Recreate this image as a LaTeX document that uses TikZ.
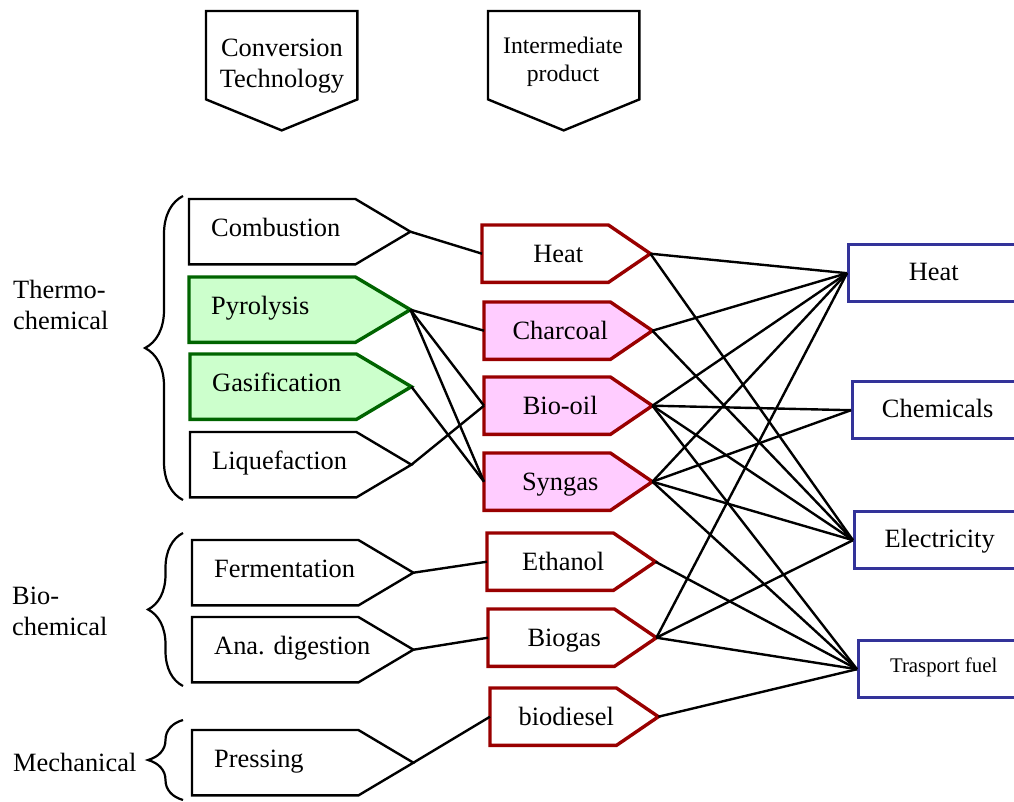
\documentclass[tikz,border=0pt]{standalone}
\usepackage{fontspec}
\setmainfont{Liberation Serif}
\usetikzlibrary{calc,decorations.pathreplacing}
\definecolor{gborder}{RGB}{0,100,0}
\definecolor{gfill}{RGB}{204,255,204}
\definecolor{rborder}{RGB}{153,0,0}
\definecolor{rfill}{RGB}{255,204,255}
\definecolor{bborder}{RGB}{51,51,153}
% left-column pentagon: name, left x, top y, style, text
\newcommand{\lpent}[5]{%
  \node[lrect] (#1) at (#2,#3) {};
  \coordinate (#1-tip) at ($(#1.east)+(55,0)$);
  \draw[#4] (#1.north west) -- (#1.north east) -- (#1-tip) -- (#1.south east) -- (#1.south west) -- cycle;
  \node[anchor=base west, inner sep=0pt] (#1-t) at ($(#1.west)+(22,5)$) {#5};
}
% middle-column pentagon
\newcommand{\mpent}[5]{%
  \node[mrect] (#1) at (#2,#3) {};
  \coordinate (#1-tip) at ($(#1.east)+(42,0)$);
  \draw[#4] (#1.north west) -- (#1.north east) -- (#1-tip) -- (#1.south east) -- (#1.south west) -- cycle;
  \node[anchor=base, inner sep=0pt] (#1-t) at ($(#1.center)+(13,8.5)$) {#5};
}
\begin{document}
\begin{tikzpicture}[x=1pt,y=-1pt,
  every node/.style={font=\fontsize{26.4}{31}\selectfont},
  lrect/.style={rectangle, minimum width=166pt, minimum height=65pt, anchor=north west, inner sep=0pt},
  mrect/.style={rectangle, minimum width=126pt, minimum height=57pt, anchor=north west, inner sep=0pt},
  hrect/.style={rectangle, minimum width=151pt, minimum height=88pt, anchor=north west, inner sep=0pt},
  plainshape/.style={draw=black, line width=2.4pt, fill=white},
  greenshape/.style={draw=gborder, line width=3.4pt, fill=gfill},
  redplain/.style={draw=rborder, line width=3.4pt, fill=white},
  redshape/.style={draw=rborder, line width=3.4pt, fill=rfill},
  rbox/.style={draw=bborder, line width=3.4pt, fill=white, rectangle, minimum width=170pt, minimum height=57pt,
    anchor=north west, inner sep=0pt, text height=0.662em+8pt, text depth=0pt},
  rboxsmall/.style={text height=0.662em, text depth=0pt},
  conn/.style={black, line width=2.4pt},
  grpbrace/.style={decorate, line width=2.2pt},
  grplabel/.style={anchor=west, align=left, inner sep=0pt}]
\useasboundingbox (0,0) rectangle (1014,802);

% headers
\node[hrect] (hconv) at (206,11) {};
\coordinate (hconv-tip) at ($(hconv.south)+(0,31)$);
\draw[plainshape] (hconv.south west) -- (hconv.north west) -- (hconv.north east) -- (hconv.south east) -- (hconv-tip) -- cycle;
\node[align=center, inner sep=0pt] (hconv-t) at (282,66) {Conversion\\Technology};
\node[hrect] (hint) at (488,11) {};
\coordinate (hint-tip) at ($(hint.south)+(0,31)$);
\draw[plainshape] (hint.south west) -- (hint.north west) -- (hint.north east) -- (hint.south east) -- (hint-tip) -- cycle;
\node[align=center, inner sep=0pt, font=\fontsize{23.7}{28}\selectfont] (hint-t) at (563,62) {Intermediate\\product};

% group labels and braces
\node[grplabel] (thermo) at (13,305) {Thermo-\\chemical};
\node[grplabel] (bioch) at (12,611) {Bio-\\chemical};
\node[grplabel] (mech) at (13,762) {Mechanical};
\draw[grpbrace, decoration={brace, amplitude=38pt}] (183,500) -- (183,196);
\draw[grpbrace, decoration={brace, amplitude=35pt}] (183,686) -- (183,533);
\draw[grpbrace, decoration={brace, amplitude=35pt}] (183,800) -- (183,720);

% conversion technologies
\lpent{comb}{189}{199}{plainshape}{Combustion}
\lpent{pyro}{189}{277}{greenshape}{Pyrolysis}
\lpent{gasi}{190}{354}{greenshape}{Gasification}
\lpent{lique}{190}{432}{plainshape}{Liquefaction}
\lpent{ferm}{192}{540}{plainshape}{Fermentation}
\lpent{ana}{192}{617}{plainshape}{Ana. digestion}
\lpent{press}{192}{730}{plainshape}{Pressing}

% intermediate products
\mpent{mheat}{482}{225}{redplain}{Heat}
\mpent{mchar}{484}{302}{redshape}{Charcoal}
\mpent{mbio}{484}{377}{redshape}{Bio-oil}
\mpent{msyn}{484}{453}{redshape}{Syngas}
\mpent{meth}{487}{533}{redplain}{Ethanol}
\mpent{mgas}{488}{609}{redplain}{Biogas}
\mpent{mdie}{490}{688}{redplain}{biodiesel}

% final products
\node[rbox] (rheat) at (847,243) {Heat};
\node[rbox] (rchem) at (851,380) {Chemicals};
\node[rbox] (relec) at (853,510) {Electricity};
\node[rbox, rboxsmall, font=\fontsize{20.8}{24}\selectfont] (rfuel) at (857,639) {Trasport fuel};

% connectors: technology -> intermediate
\draw[conn] (comb-tip) -- (mheat.west);
\draw[conn] (pyro-tip) -- (mchar.west);
\draw[conn] (pyro-tip) -- (mbio.west);
\draw[conn] (pyro-tip) -- (msyn.west);
\draw[conn] (gasi-tip) -- (msyn.west);
\draw[conn] (lique-tip) -- (mbio.west);
\draw[conn] (ferm-tip) -- (meth.west);
\draw[conn] (ana-tip) -- (mgas.west);
\draw[conn] (press-tip) -- (mdie.west);

% connectors: intermediate -> final
\draw[conn] (mheat-tip) -- (rheat.west);
\draw[conn] (mheat-tip) -- (relec.west);
\draw[conn] (mchar-tip) -- (rheat.west);
\draw[conn] (mchar-tip) -- (relec.west);
\draw[conn] (mbio-tip) -- (rheat.west);
\draw[conn] (mbio-tip) -- (rchem.west);
\draw[conn] (mbio-tip) -- (relec.west);
\draw[conn] (mbio-tip) -- (rfuel.west);
\draw[conn] (msyn-tip) -- (rheat.west);
\draw[conn] (msyn-tip) -- (rchem.west);
\draw[conn] (msyn-tip) -- (relec.west);
\draw[conn] (msyn-tip) -- (rfuel.west);
\draw[conn] (meth-tip) -- (rfuel.west);
\draw[conn] (mgas-tip) -- (rheat.west);
\draw[conn] (mgas-tip) -- (relec.west);
\draw[conn] (mgas-tip) -- (rfuel.west);
\draw[conn] (mdie-tip) -- (rfuel.west);
\end{tikzpicture}
\end{document}
